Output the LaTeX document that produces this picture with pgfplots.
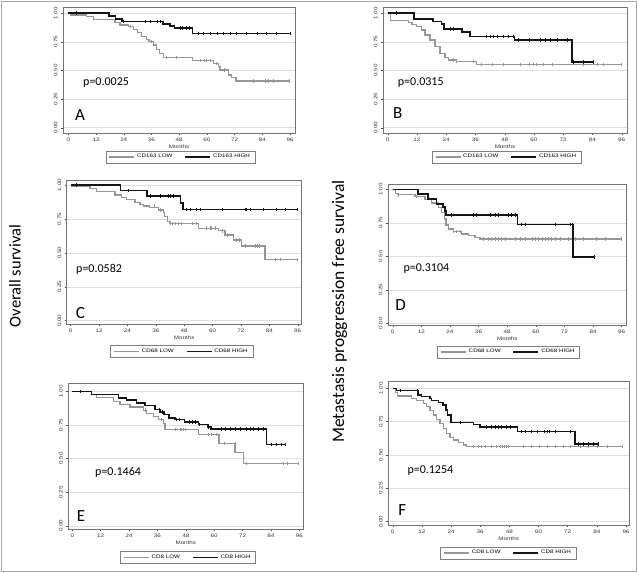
\documentclass[border=0pt]{standalone}
\usepackage{fontspec}
\setmainfont{Liberation Sans}
\newfontfamily\chartfont[FakeStretch=1.25]{Liberation Sans}
\newfontfamily\calib{Carlito}
\usepackage{pgfplots}
\pgfplotsset{compat=1.18}
\definecolor{lowc}{RGB}{150,150,150}
\definecolor{highc}{RGB}{20,20,20}
\pgfplotsset{
  km/.style={
    scale only axis,
    axis line style={black!55, line width=0.5pt},
    xtick={0,12,24,36,48,60,72,84,96},
    xticklabels={0,12,24,36,48,60,72,84,96},
    ytick={0,0.25,0.5,0.75,1},
    yticklabels={0.00,0.25,0.50,0.75,1.00},
    ymajorgrids,
    grid style={black!13, line width=0.5pt},
    tick align=outside,
    xtick pos=left, ytick pos=left,
    major tick length=2pt,
    tick style={black!70, line width=0.4pt},
    ticklabel style={font=\chartfont\fontsize{5}{5}\selectfont, text=black!80},
    yticklabel style={rotate=90, anchor=south},
    xticklabel style={yshift=1pt},
    xlabel={Months},
    xlabel style={font=\chartfont\fontsize{5}{5}\selectfont, text=black!80, yshift=3.5pt},
    legend columns=2,
    legend image code/.code={\draw[##1, mark=none] (0pt,0pt) -- (25pt,0pt);},
    legend style={draw=black!50, line width=0.4pt, font=\chartfont\fontsize{5}{5}\selectfont,
      inner xsep=3pt, inner ysep=1.5pt, anchor=center,
      /tikz/every even column/.append style={column sep=10pt}},
    clip=false,
  },
  lowline/.style={lowc, line width=1.3pt, const plot},
  highline/.style={highc, line width=1.6pt, const plot},
  lowcens/.style={lowc, only marks, mark=|, mark size=1.8pt, mark options={line width=0.5pt}, forget plot},
  highcens/.style={highc, only marks, mark=|, mark size=1.8pt, mark options={line width=0.5pt}, forget plot},
}
\begin{document}
\begin{tikzpicture}[x=1pt,y=1pt]
\useasboundingbox (0,0) rectangle (638,573);
\draw[black!35, line width=1pt] (1.5,1.5) rectangle (636.5,571.5);

% ---------------- Panel A ----------------
\begin{axis}[km, at={(63pt,440pt)}, anchor=south west, width=232pt, height=126pt,
  xmin=-2.3, xmax=98.16, ymin=-0.046, ymax=1.055,
  legend style={at={(0.506,-0.19)}}]
\addplot[lowline] coordinates {(0,1)(1,0.985)(8,0.97)(11,0.948)(20.2,0.918)(22.4,0.898)(26,0.883)(28.1,0.86)(30,0.83)(31.8,0.795)(34,0.77)(35,0.752)(36.8,0.723)(38.3,0.685)(39.4,0.65)(41.1,0.615)(53.8,0.586)(62.8,0.563)(64.9,0.533)(65.7,0.504)(69.3,0.46)(70.7,0.44)(72.6,0.408)(95.7,0.408)};
\addlegendentry{CD163 LOW}
\addplot[highline] coordinates {(0,1)(17.5,0.975)(20.5,0.95)(23.3,0.928)(41.1,0.905)(44,0.89)(46,0.87)(53.8,0.825)(96,0.825)};
\addlegendentry{CD163 HIGH}
\addplot[lowcens] coordinates {(27,0.883)(36,0.752)(42.6,0.615)(46.9,0.615)(57,0.586)(58.7,0.586)(59.9,0.586)(61.3,0.586)(64,0.563)(67.4,0.504)(80.1,0.408)(85.4,0.408)(86.6,0.408)(88.7,0.408)(95.7,0.408)};
\addplot[highcens] coordinates {(3.3,1)(23.8,0.928)(33.2,0.928)(35.4,0.928)(38.3,0.928)(39.7,0.928)(48.4,0.87)(49.5,0.87)(51,0.87)(52.4,0.87)(56.3,0.825)(58.5,0.825)(61.4,0.825)(64.3,0.825)(67.1,0.825)(70,0.825)(72.9,0.825)(77.2,0.825)(81.6,0.825)(85.9,0.825)(90.2,0.825)(96,0.825)};
\end{axis}

% ---------------- Panel B ----------------
\begin{axis}[km, at={(383pt,440pt)}, anchor=south west, width=244pt, height=126pt,
  xmin=-1.93, xmax=98.17, ymin=-0.046, ymax=1.055,
  legend style={at={(0.506,-0.19)}}]
\addplot[lowline] coordinates {(0,1)(1.2,0.935)(8.5,0.92)(10,0.90)(11.9,0.885)(13.9,0.855)(15.3,0.811)(17.4,0.767)(19.4,0.709)(21.5,0.651)(23.5,0.613)(24.9,0.593)(28.3,0.578)(36.5,0.554)(96,0.554)};
\addlegendentry{CD163 LOW}
\addplot[highline] coordinates {(0,1)(10.8,0.95)(18.7,0.927)(22.1,0.904)(23,0.865)(30.4,0.834)(33.8,0.798)(52,0.767)(75.5,0.572)(84.4,0.572)};
\addlegendentry{CD163 HIGH}
\addplot[lowcens] coordinates {(26.7,0.593)(28.3,0.578)(35.2,0.578)(38.3,0.554)(42.7,0.554)(47.5,0.554)(54.3,0.554)(58.1,0.554)(59.8,0.554)(61.1,0.554)(63.9,0.554)(67.3,0.554)(80.3,0.554)(85.8,0.554)(88.5,0.554)(96,0.554)};
\addplot[highcens] coordinates {(3.7,1)(25.6,0.865)(27,0.865)(40.6,0.798)(42,0.798)(43.4,0.798)(45,0.798)(47.5,0.798)(49.5,0.798)(51.3,0.798)(53.6,0.767)(58.1,0.767)(62.5,0.767)(64.6,0.767)(66.6,0.767)(69.4,0.767)(73.5,0.767)(76.2,0.572)(80.3,0.572)(84.4,0.572)};
\end{axis}

% ---------------- Panel C ----------------
\begin{axis}[km, at={(66.7pt,249pt)}, anchor=south west, width=235pt, height=143.3pt,
  xmin=-1.69, xmax=97.69, ymin=-0.0243, ymax=1.0317,
  legend style={at={(0.489,-0.192)}}]
\addplot[lowline] coordinates {(0,0.993)(8.2,0.975)(11,0.951)(18.7,0.926)(21.6,0.909)(23.7,0.894)(27.2,0.872)(29.3,0.858)(30.7,0.845)(33.3,0.833)(37.1,0.816)(39.2,0.796)(39.6,0.767)(41,0.73)(42,0.717)(54,0.681)(62.4,0.663)(65.3,0.631)(68.8,0.595)(72.3,0.55)(82.2,0.452)(95.6,0.452)};
\addlegendentry{CD68 LOW}
\addplot[highline] coordinates {(0,1)(21,0.959)(32.3,0.918)(46.4,0.868)(47.4,0.818)(96,0.818)};
\addlegendentry{CD68 HIGH}
\addplot[lowcens] coordinates {(35.2,0.845)(38,0.816)(42.3,0.717)(43.1,0.717)(44.1,0.717)(45.5,0.717)(46.9,0.717)(51.6,0.717)(53.3,0.717)(57.5,0.681)(58.9,0.681)(59.6,0.681)(61,0.681)(63.9,0.663)(66.3,0.631)(70.2,0.595)(71.3,0.595)(73.7,0.55)(78,0.55)(78.9,0.55)(79.8,0.55)(86.4,0.452)(88.8,0.452)(95.6,0.452)};
\addplot[highcens] coordinates {(2.5,1)(24.4,0.959)(33.8,0.918)(37.8,0.918)(41.3,0.918)(42.3,0.918)(43.4,0.918)(49,0.818)(50.7,0.818)(53.3,0.818)(54.7,0.818)(63.9,0.818)(73.7,0.818)(74.4,0.818)(75.8,0.818)(81.5,0.818)(86.8,0.818)(90.6,0.818)(95.6,0.818)};
\end{axis}

% ---------------- Panel D ----------------
\begin{axis}[km, at={(388pt,248pt)}, anchor=south west, width=238.7pt, height=141pt,
  xmin=-1.97, xmax=98.1, ymin=-0.013, ymax=1.04,
  legend style={at={(0.505,-0.191)}}]
\addplot[lowline] coordinates {(0,1)(1.3,0.97)(2,0.96)(9.3,0.948)(13.5,0.923)(16.3,0.898)(19.1,0.866)(20.5,0.828)(21.6,0.779)(22.4,0.734)(23.3,0.704)(25.4,0.684)(28.9,0.667)(31.7,0.654)(34.5,0.642)(36.6,0.63)(96,0.63)};
\addlegendentry{CD68 LOW}
\addplot[highline] coordinates {(0,1)(10.7,0.965)(14.7,0.928)(18.4,0.89)(21.2,0.866)(21.9,0.84)(22.4,0.808)(52.4,0.739)(75.7,0.497)(84.5,0.497)};
\addlegendentry{CD68 HIGH}
\addplot[lowcens] coordinates {(2.5,0.96)(9.8,0.948)(25.4,0.684)(26.8,0.684)(28.2,0.684)(38,0.63)(40.1,0.63)(41.5,0.63)(42.9,0.63)(44.3,0.63)(45.7,0.63)(47.1,0.63)(51.3,0.63)(53.4,0.63)(55.5,0.63)(58.3,0.63)(59.7,0.63)(61.1,0.63)(62.5,0.63)(63.9,0.63)(65.2,0.63)(66.6,0.63)(68,0.63)(70.1,0.63)(73.6,0.63)(76.4,0.63)(79.9,0.63)(85.5,0.63)(89,0.63)(96,0.63)};
\addplot[highcens] coordinates {(24.7,0.808)(33.8,0.808)(35.2,0.808)(40.8,0.808)(42.9,0.808)(44.3,0.808)(48.5,0.808)(49.9,0.808)(51.3,0.808)(54.1,0.739)(55.5,0.739)(68,0.739)(74.3,0.739)(75.3,0.739)(84.5,0.497)};
\end{axis}

% ---------------- Panel E ----------------
\begin{axis}[km, at={(68.3pt,43.7pt)}, anchor=south west, width=235pt, height=146.3pt,
  xmin=-1.69, xmax=97.69, ymin=-0.026, ymax=1.062,
  legend style={at={(0.509,-0.193)}}]
\addplot[lowline] coordinates {(0,1)(8.2,0.977)(10.3,0.952)(17.3,0.927)(20.2,0.901)(24.4,0.884)(30,0.86)(31.5,0.835)(34.2,0.815)(36.4,0.79)(38.5,0.76)(39.2,0.716)(53.3,0.679)(62,0.612)(68.8,0.543)(72.3,0.464)(95.4,0.464)};
\addlegendentry{CD8 LOW}
\addplot[highline] coordinates {(0,1)(8.2,0.977)(19.5,0.952)(23,0.935)(27.2,0.915)(30.7,0.895)(35,0.865)(37.1,0.845)(38.9,0.828)(40.9,0.803)(43.4,0.79)(47.4,0.771)(53.3,0.754)(57.5,0.736)(58.6,0.721)(82.2,0.605)(90.2,0.605)};
\addlegendentry{CD8 HIGH}
\addplot[lowcens] coordinates {(30.7,0.86)(37.5,0.79)(43.4,0.716)(45.5,0.716)(46.2,0.716)(46.9,0.716)(47.6,0.716)(57.5,0.679)(58.6,0.679)(61,0.679)(64.4,0.612)(68.7,0.612)(73.6,0.464)(89.1,0.464)(90.8,0.464)(95.4,0.464)};
\addplot[highcens] coordinates {(3.3,1)(36.6,0.865)(38,0.845)(44,0.79)(45.4,0.79)(49.3,0.771)(50.7,0.771)(52.1,0.771)(53.5,0.754)(57.5,0.736)(62.9,0.721)(64.6,0.721)(66.7,0.721)(68.8,0.721)(70.9,0.721)(73.7,0.721)(75.1,0.721)(76.5,0.721)(78.6,0.721)(80.8,0.721)(84.3,0.605)(86.4,0.605)(88.2,0.605)(90.2,0.605)};
\end{axis}

% ---------------- Panel F ----------------
\begin{axis}[km, at={(388.3pt,48pt)}, anchor=south west, width=240.7pt, height=144pt,
  xmin=-1.81, xmax=97.24, ymin=-0.025, ymax=1.055,
  legend style={at={(0.4985,-0.194)}}]
\addplot[lowline] coordinates {(0,1)(1.2,0.968)(2,0.943)(7.8,0.925)(9.9,0.908)(12.6,0.888)(14,0.863)(15.3,0.833)(16.7,0.80)(18.1,0.768)(19.5,0.738)(20.8,0.70)(22.2,0.663)(23.6,0.633)(24.9,0.613)(27,0.593)(29.1,0.575)(30.5,0.563)(94.5,0.563)};
\addlegendentry{CD8 LOW}
\addplot[highline] coordinates {(0,1)(1.6,0.983)(10.3,0.95)(11.9,0.94)(15.3,0.925)(16,0.908)(18.8,0.893)(20.8,0.875)(21.9,0.838)(22.6,0.80)(24,0.745)(33.2,0.73)(35.9,0.708)(51.4,0.675)(75,0.583)(84.4,0.583)};
\addlegendentry{CD8 HIGH}
\addplot[lowcens] coordinates {(33.2,0.563)(35.2,0.563)(36.6,0.563)(38,0.563)(40.5,0.563)(42.8,0.563)(44.2,0.563)(45.1,0.563)(46,0.563)(46.9,0.563)(47.6,0.563)(53.7,0.563)(57.2,0.563)(60.2,0.563)(63.8,0.563)(66.8,0.563)(70.3,0.563)(73,0.563)(77.2,0.563)(80.6,0.563)(84,0.563)(88.2,0.563)(94.5,0.563)};
\addplot[highcens] coordinates {(3,0.983)(10,0.983)(27.7,0.745)(38.7,0.708)(40.5,0.708)(42.1,0.708)(43.5,0.708)(44.6,0.708)(46.9,0.708)(48.3,0.708)(53.1,0.675)(54.4,0.675)(57.2,0.675)(59.3,0.675)(62.4,0.675)(63.4,0.675)(64.3,0.675)(66.8,0.675)(73,0.675)(76.4,0.583)(78.4,0.583)(80.5,0.583)(82.6,0.583)(84.4,0.583)};
\end{axis}

% ---------------- annotations ----------------
\node[anchor=west, font=\calib\fontsize{12}{14}\selectfont, inner sep=0pt] at (83,490.7) {p=0.0025};
\node[anchor=west, font=\calib\fontsize{12}{14}\selectfont, inner sep=0pt] at (397.7,490.7) {p=0.0315};
\node[anchor=west, font=\calib\fontsize{12}{14}\selectfont, inner sep=0pt] at (76,304) {p=0.0582};
\node[anchor=west, font=\calib\fontsize{12}{14}\selectfont, inner sep=0pt] at (403.3,304) {p=0.3104};
\node[anchor=west, font=\calib\fontsize{12}{14}\selectfont, inner sep=0pt] at (95,100.5) {p=0.1464};
\node[anchor=west, font=\calib\fontsize{12}{14}\selectfont, inner sep=0pt] at (407.3,102) {p=0.1254};

\node[font=\calib\fontsize{17}{18}\selectfont, inner sep=0pt] at (80,458) {A};
\node[font=\calib\fontsize{17}{18}\selectfont, inner sep=0pt] at (397.7,459.7) {B};
\node[font=\calib\fontsize{17}{18}\selectfont, inner sep=0pt] at (80.5,259.7) {C};
\node[font=\calib\fontsize{17}{18}\selectfont, inner sep=0pt] at (400.5,268) {D};
\node[font=\calib\fontsize{17}{18}\selectfont, inner sep=0pt] at (81,56.7) {E};
\node[font=\calib\fontsize{17}{18}\selectfont, inner sep=0pt] at (402.3,63) {F};

\node[rotate=90, font=\calib\fontsize{16.5}{18}\selectfont, inner sep=0pt] at (15,297) {Overall survival};
\node[rotate=90, font=\calib\fontsize{17.5}{19}\selectfont, inner sep=0pt] at (339.5,261.5) {Metastasis proggression free survival};
\end{tikzpicture}
\end{document}
